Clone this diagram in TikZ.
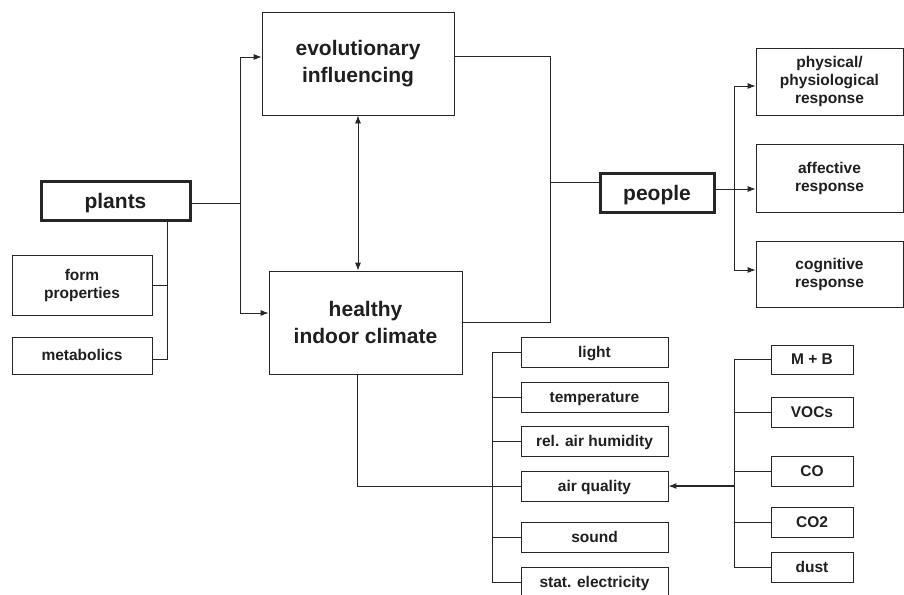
\documentclass[tikz,border=0pt]{standalone}
\usepackage{fontspec}
\setmainfont{Liberation Sans}
\usetikzlibrary{arrows.meta}
\begin{document}
\begin{tikzpicture}[x=1pt,y=-1pt,
  line width=0.8pt,
  color=black!85,
  box/.style={draw=black!85, line width=0.8pt, rectangle, inner sep=0pt, align=center, text=black!88, font=\fontsize{15.5}{18}\selectfont\bfseries},
  onebox/.style={box, text height=11pt, text depth=0.5pt},
  bigbox/.style={box, font=\fontsize{21}{27}\selectfont\bfseries},
  keybox/.style={bigbox, line width=3pt, text height=15.5pt, text depth=0.5pt},
  arr/.style={-{Latex[length=8pt,width=6pt]}},
  darr/.style={{Latex[length=8pt,width=6pt]}-{Latex[length=8pt,width=6pt]}}
]
\useasboundingbox (0,0) rectangle (904,594);
\fill[white] (0,0) rectangle (904,594);
\clip (0,0) rectangle (904,594);

% main nodes
\node[keybox, minimum width=149pt, minimum height=39pt] (plants) at (115.5,200.5) {plants};
\node[box, minimum width=140pt, minimum height=60pt] (form) at (82,285) {form\\properties};
\node[onebox, minimum width=140pt, minimum height=37pt] (metab) at (82,355.5) {metabolics};
\node[bigbox, minimum width=192pt, minimum height=103pt] (evol) at (358,63.5) {evolutionary\\influencing};
\node[bigbox, minimum width=193pt, minimum height=103pt] (healthy) at (365.5,322.5) {healthy\\indoor climate};
\node[keybox, minimum width=114pt, minimum height=39pt] (people) at (657,192.5) {people};
\node[box, minimum width=147pt, minimum height=67pt] (phys) at (829.5,81.5) {physical/\\physiological\\response};
\node[box, minimum width=147pt, minimum height=68pt] (aff) at (829.5,178) {affective\\response};
\node[box, minimum width=147pt, minimum height=66pt] (cog) at (829.5,274) {cognitive\\response};

% climate factors
\node[onebox, minimum width=147pt, minimum height=30pt] (light) at (594.5,352) {light};
\node[onebox, minimum width=147pt, minimum height=30pt] (temp) at (594.5,397) {temperature};
\node[onebox, minimum width=147pt, minimum height=30pt] (hum) at (594.5,441) {rel. air humidity};
\node[onebox, minimum width=147pt, minimum height=30pt] (air) at (594.5,486) {air quality};
\node[onebox, minimum width=147pt, minimum height=30pt] (sound) at (594.5,537) {sound};
\node[onebox, minimum width=147pt, minimum height=30pt] (stat) at (594.5,582) {stat. electricity};

% pollutants
\node[onebox, minimum width=82pt, minimum height=29pt] (mb) at (812,359.5) {M + B};
\node[onebox, minimum width=82pt, minimum height=30pt] (voc) at (812,412) {VOCs};
\node[onebox, minimum width=82pt, minimum height=30pt] (co) at (812,471) {CO};
\node[onebox, minimum width=82pt, minimum height=30pt] (co2) at (812,522) {CO2};
\node[onebox, minimum width=82pt, minimum height=30pt] (dust) at (812,567) {dust};

% junction coordinates
\coordinate (pj) at (240,203);
\coordinate (pv) at (167,285);
\coordinate (rj) at (550,182.5);
\coordinate (pp) at (734,189);
\coordinate (cbt) at (492,352);
\coordinate (cbb) at (492,582);
\coordinate (pbt) at (734,359.5);
\coordinate (pbb) at (734,567);

% plants connections
\draw (plants.east |- pj) -- (pj);
\draw[arr] (pj) |- ([yshift=6.5pt]evol.west);
\draw[arr] (pj) |- ([yshift=9.5pt]healthy.west);
\draw ([xshift=51.5pt]plants.south) |- ([yshift=-3.5pt]metab.east);
\draw (form.east) -- (pv);

% evolutionary <-> healthy
\draw[darr] (evol.south) -- (evol.south |- healthy.north);

% to people
\draw ([yshift=7.5pt]evol.east) -| (rj);
\draw (rj) |- (healthy.east);
\draw (rj) -- (people.west |- rj);

% people responses
\draw ([yshift=3.5pt]people.east) -- (pp);
\draw[arr] (pp) |- ([yshift=-4.5pt]phys.west);
\draw[arr] (pp) -- (aff.west |- pp);
\draw[arr] (pp) |- ([yshift=4pt]cog.west);

% healthy -> air quality and climate bus
\draw ([xshift=-8.5pt]healthy.south) |- (air.west);
\draw (light.west) -- (cbt) -- (cbb) -- (stat.west);
\draw (temp.west) -- (temp.west -| cbt);
\draw (hum.west) -- (hum.west -| cbt);
\draw (sound.west) -- (sound.west -| cbt);

% pollutant bus
\draw (mb.west) -- (pbt) -- (pbb) -- (dust.west);
\draw (voc.west) -- (voc.west -| pbt);
\draw (co.west) -- (co.west -| pbt);
\draw (co2.west) -- (co2.west -| pbt);
\draw[arr, line width=1.2pt] (air.east -| pbt) -- (air.east);
\end{tikzpicture}
\end{document}
